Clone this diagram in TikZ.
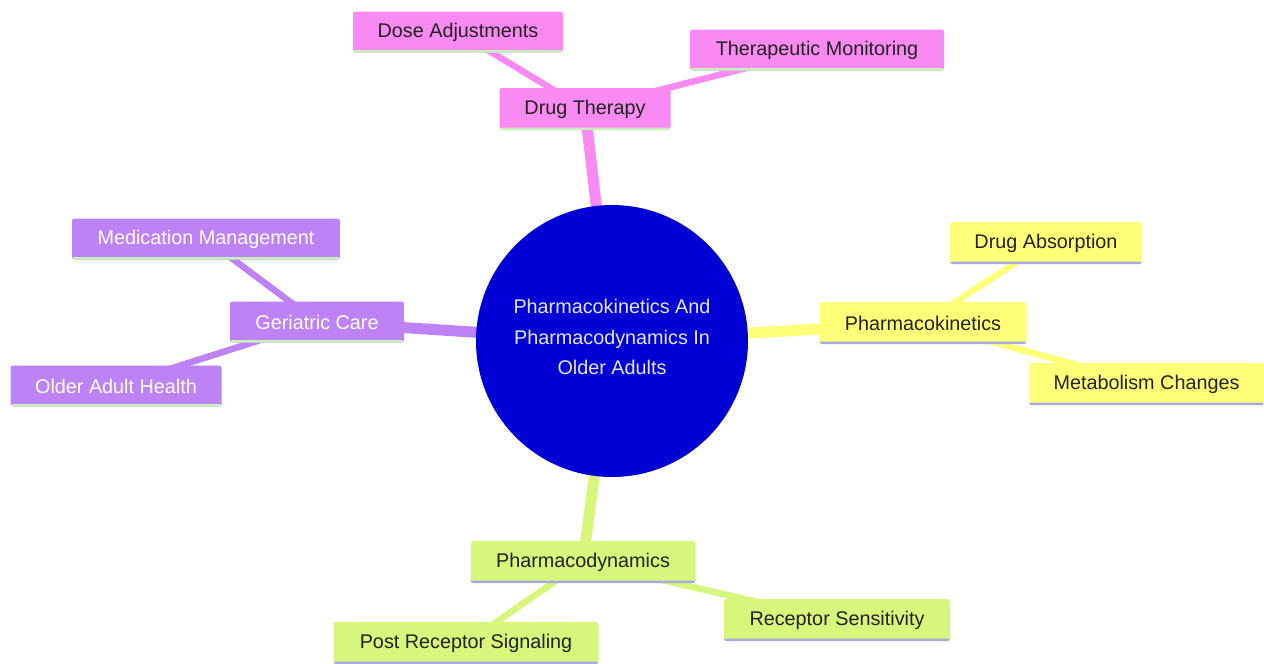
\documentclass[tikz,border=0pt]{standalone}
\usepackage{fontspec}
\setmainfont{Liberation Sans}
\usetikzlibrary{backgrounds}
\definecolor{cpink}{HTML}{F88AF2}
\definecolor{cpurple}{HTML}{BE82F7}
\definecolor{cyellow}{HTML}{FFFF78}
\definecolor{cgreen}{HTML}{D8F57C}
\definecolor{croot}{HTML}{0000D4}
\definecolor{lgreen}{HTML}{C8F0B8}
\definecolor{lav}{HTML}{A8A8E6}
\definecolor{darktext}{HTML}{222222}
\begin{document}
\begin{tikzpicture}[x=1pt,y=-1pt,
  box/.style={rectangle, rounded corners=2.5pt, inner sep=0pt, minimum height=41pt,
    font=\fontsize{19.8}{22}\selectfont},
  ul/.style={path picture={\fill[#1] ([yshift=2.5pt]path picture bounding box.south west) rectangle (path picture bounding box.south east);}},
  pinkbox/.style={box, fill=cpink, text=darktext, ul=lgreen},
  purplebox/.style={box, fill=cpurple, text=white, ul=lgreen},
  yellowbox/.style={box, fill=cyellow, text=darktext, ul=lav},
  greenbox/.style={box, fill=cgreen, text=darktext, ul=lav},
  mainedge/.style={line width=11pt, draw=#1},
  subedge/.style={line width=6.5pt, draw=#1},
  rootnode/.style={circle, fill=croot, minimum size=272pt, inner sep=0pt},
  roottext/.style={text=white!90!blue, align=center, font=\fontsize{19.8}{30.5}\selectfont}
]
\useasboundingbox (0,0) rectangle (1264,664);

\node[rootnode, label={[roottext, yshift=4pt]center:Pharmacokinetics And\\Pharmacodynamics In\\Older Adults}] (root) at (612,341) {};

\node[pinkbox, minimum width=171pt, minimum height=42pt] (dt) at (585,109) {Drug Therapy};
\node[pinkbox, minimum width=210pt] (dose) at (458,32) {Dose Adjustments};
\node[pinkbox, minimum width=254pt] (tm) at (817,50) {Therapeutic Monitoring};

\node[purplebox, minimum width=174pt] (gc) at (317,322) {Geriatric Care};
\node[purplebox, minimum width=268pt] (mm) at (206,239) {Medication Management};
\node[purplebox, minimum width=211pt] (oah) at (116,386) {Older Adult Health};

\node[yellowbox, minimum width=207pt, minimum height=42pt] (pk) at (923,323) {Pharmacokinetics};
\node[yellowbox, minimum width=192pt, minimum height=42pt] (da) at (1046,243) {Drug Absorption};
\node[yellowbox, minimum width=235pt, minimum height=42pt] (mc) at (1146.5,384) {Metabolism Changes};

\node[greenbox, minimum width=225pt, minimum height=42pt] (pd) at (583,562) {Pharmacodynamics};
\node[greenbox, minimum width=265pt, minimum height=42pt] (prs) at (466,643) {Post Receptor Signaling};
\node[greenbox, minimum width=226pt, minimum height=42pt] (rs) at (837,620) {Receptor Sensitivity};

\begin{scope}[on background layer]
\draw[mainedge=cpink] (root.center) -- (dt.center);
\draw[subedge=cpink] (dt.center) -- (dose.center);
\draw[subedge=cpink] (dt.center) -- (tm.center);
\draw[mainedge=cpurple] (root.center) -- (gc.center);
\draw[subedge=cpurple] (gc.center) -- (mm.center);
\draw[subedge=cpurple] (gc.center) -- (oah.center);
\draw[mainedge=cyellow] (root.center) -- (pk.center);
\draw[subedge=cyellow] (pk.center) -- (da.center);
\draw[subedge=cyellow] (pk.center) -- (mc.center);
\draw[mainedge=cgreen] (root.center) -- (pd.center);
\draw[subedge=cgreen] (pd.center) -- (prs.center);
\draw[subedge=cgreen] (pd.center) -- (rs.center);
\end{scope}
\end{tikzpicture}
\end{document}
